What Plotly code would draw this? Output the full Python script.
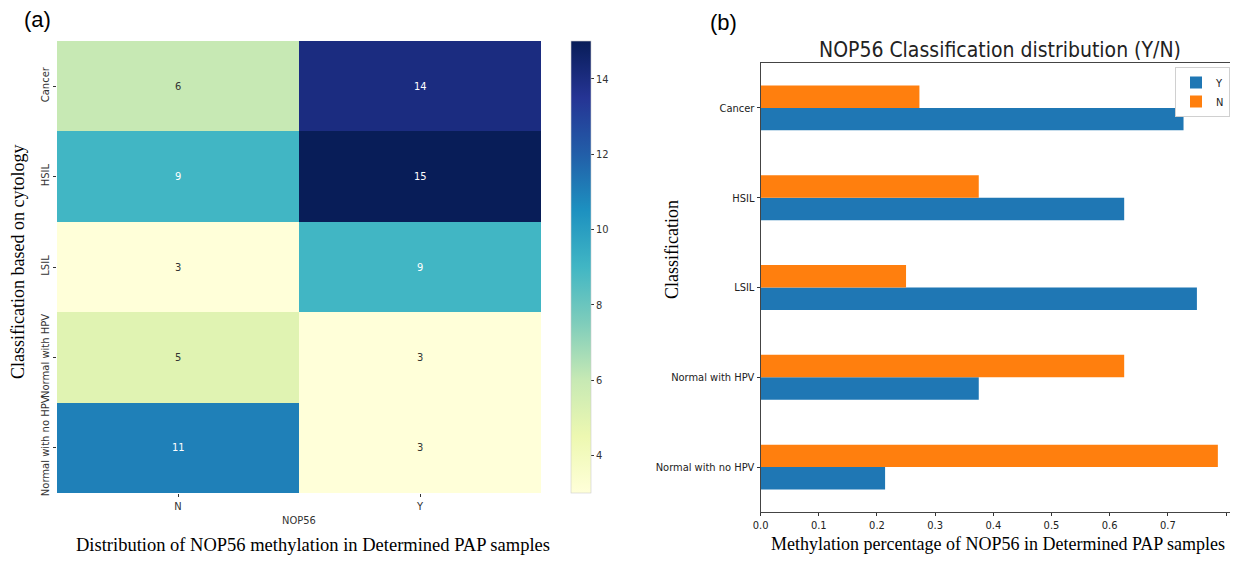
import plotly.graph_objects as go

# ---- data ----
classes = ["Cancer", "HSIL", "LSIL", "Normal with HPV", "Normal with no HPV"]
nop56_cols = ["N", "Y"]
counts_N = [6, 9, 3, 5, 11]
counts_Y = [14, 15, 9, 3, 3]
pct_Y = [0.727, 0.625, 0.75, 0.375, 0.214]
pct_N = [0.273, 0.375, 0.25, 0.625, 0.786]
cbar_ticks = [4, 6, 8, 10, 12, 14]
pct_ticks = [0.0, 0.1, 0.2, 0.3, 0.4, 0.5, 0.6, 0.7, 0.8]

W, H = 1238, 563
OFF = 8                      # default page body margin
FW, FH = W - 2 * OFF, H - 2 * OFF


def px(x):
    return (x - OFF) / FW


def py(y):
    return 1 - (y - OFF) / FH


ylgnbu = ["#ffffd9", "#edf8b1", "#c7e9b4", "#7fcdbb", "#41b6c4",
          "#1d91c0", "#225ea8", "#253494", "#081d58"]
cs = [[i / (len(ylgnbu) - 1), c] for i, c in enumerate(ylgnbu)]

sans = "DejaVu Sans Condensed, DejaVu Sans, sans-serif"
sans_reg = "DejaVu Sans, sans-serif"
serif = "Liberation Serif, Times New Roman, serif"

z = [[n, y] for n, y in zip(counts_N, counts_Y)]

fig = go.Figure()
fig.add_trace(go.Heatmap(
    z=z, x=nop56_cols, y=classes, colorscale=cs, zmin=3, zmax=15,
    xaxis="x", yaxis="y", showscale=True,
    colorbar=dict(x=px(571), xanchor="left", xpad=0, ypad=0,
                  y=(py(41) + py(493)) / 2, yanchor="middle",
                  lenmode="pixels", len=452, thickness=20, outlinewidth=0.6,
                  outlinecolor="#cccccc", tickvals=cbar_ticks, ticks="outside",
                  ticklen=3, tickcolor="#333",
                  tickfont=dict(family=sans, size=11, color="#333")),
    hoverinfo="skip",
))

annotations = []
for ri, cl in enumerate(classes):
    for ci, col in enumerate(nop56_cols):
        v = z[ri][ci]
        annotations.append(dict(x=col, y=cl, xref="x", yref="y", text=str(v), showarrow=False,
                                font=dict(family=sans, size=11,
                                          color="white" if v > 8 else "#333")))

fig.add_trace(go.Bar(name="Y", y=classes, x=pct_Y, orientation="h",
                     marker=dict(color="#1f77b4", line=dict(width=0)),
                     xaxis="x2", yaxis="y2"))
fig.add_trace(go.Bar(name="N", y=classes, x=pct_N, orientation="h",
                     marker=dict(color="#ff7f0e", line=dict(width=0)),
                     xaxis="x2", yaxis="y2"))


def paper_text(x, y, text, font, angle=0):
    return dict(x=px(x), y=py(y), xref="paper", yref="paper", text=text, showarrow=False,
                xanchor="center", yanchor="middle", textangle=angle, font=font)


annotations += [
    paper_text(38, 20, "(a)", dict(family="Liberation Sans, Arial", size=22, color="black")),
    paper_text(723, 22, "(b)", dict(family="Liberation Sans, Arial", size=22, color="black")),
    paper_text(18, 262, "Classification based on cytology",
               dict(family=serif, size=18, color="black"), -90),
    paper_text(313, 545, "Distribution of NOP56 methylation in Determined PAP samples",
               dict(family=serif, size=18.5, color="black")),
    paper_text(672, 250, "Classification", dict(family=serif, size=18, color="black"), -90),
    paper_text(998, 544, "Methylation percentage of NOP56 in Determined PAP samples",
               dict(family=serif, size=18, color="black")),
    paper_text(1000, 50, "NOP56 Classification distribution (Y/N)",
               dict(family=sans, size=21, color="#222")),
    paper_text(299, 520, "NOP56", dict(family=sans, size=11, color="#333")),
]

x2_right = 1230
fig.update_layout(
    width=FW, height=FH, margin=dict(l=0, r=0, t=0, b=0, autoexpand=False),
    paper_bgcolor="white", plot_bgcolor="white",
    barmode="group", bargap=0.5, bargroupgap=0,
    showlegend=True,
    legend=dict(x=1.0, xanchor="right", y=py(67), yanchor="top", bgcolor="white",
                bordercolor="#d0d0d0", borderwidth=1,
                font=dict(family=sans, size=11, color="#222"),
                tracegroupgap=0, itemwidth=30),
    annotations=annotations,
    xaxis=dict(domain=[px(57), px(541)], anchor="y", ticks="outside", ticklen=3,
               tickcolor="#333", showgrid=False, zeroline=False,
               tickfont=dict(family=sans, size=11, color="#333")),
    yaxis=dict(domain=[py(493), py(41)], anchor="x", ticks="outside", ticklen=3,
               tickcolor="#333", showgrid=False, zeroline=False, tickangle=-90,
               categoryorder="array", categoryarray=classes[::-1],
               tickfont=dict(family=sans_reg, size=10, color="#333")),
    xaxis2=dict(domain=[px(760.6), px(x2_right)], anchor="y2",
                range=[0, (x2_right - 760.6) / 581.75], tickvals=pct_ticks,
                tickformat=".1f", ticks="outside", ticklen=3, tickcolor="#333",
                showline=True, linecolor="#444", linewidth=1, mirror=True,
                showgrid=False, zeroline=False,
                tickfont=dict(family=sans, size=11, color="#222")),
    yaxis2=dict(domain=[py(512), py(63)], anchor="x2", range=[-0.5, 4.5],
                categoryorder="array", categoryarray=classes[::-1],
                ticks="outside", ticklen=3, tickcolor="#333",
                showline=True, linecolor="#444", linewidth=1, mirror=False,
                showgrid=False, zeroline=False,
                tickfont=dict(family=sans, size=11, color="#222")),
)

fig.write_html("out.html")
